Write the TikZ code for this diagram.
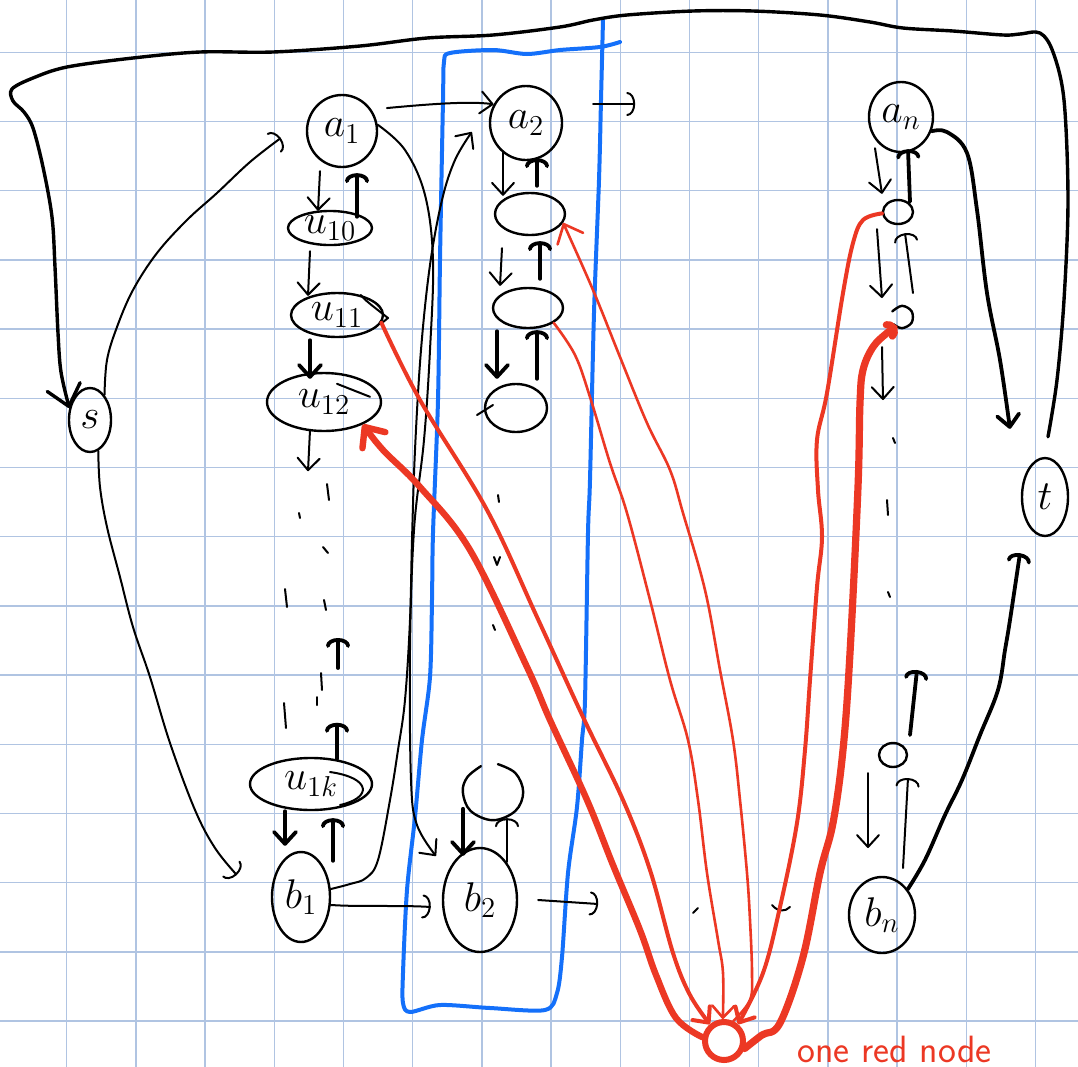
\documentclass[tikz,border=0pt]{standalone}
\usetikzlibrary{arrows.meta,shapes.geometric}
\definecolor{gridc}{RGB}{176,196,226}
\definecolor{redink}{RGB}{236,56,36}
\definecolor{blueink}{RGB}{20,112,250}
\tikzset{
 gridl/.style={draw=gridc,line width=0.65pt},
 ink/.style={draw=black,line width=1pt,line cap=round,line join=round},
 inkb/.style={draw=black,line width=1.9pt,line cap=round,line join=round},
 inkl/.style={draw=black,line width=1.7pt,line cap=round,line join=round},
 redt/.style={draw=redink,line width=1.3pt,line cap=round,line join=round},
 redm/.style={draw=redink,line width=2pt,line cap=round,line join=round},
 redk/.style={draw=redink,line width=3.2pt,line cap=round,line join=round},
 bluel/.style={draw=blueink,line width=2pt,line cap=round,line join=round},
 vhd/.style={-{Straight Barb[length=6pt,width=11pt,round]}},
 vhdl/.style={-{Straight Barb[length=10pt,width=17pt,round]}},
 arcd/.style={-{Arc Barb[length=4pt,width=12pt,round]}},
 nd/.style={draw=black,ellipse,line width=1.2pt,inner sep=0pt,font=\fontsize{20.74}{24}\selectfont},
 sz/.style 2 args={minimum width=#1*0.5pt,minimum height=#2*0.5pt}
}
\begin{document}
\begin{tikzpicture}[x=0.5pt,y=-0.5pt]
\useasboundingbox (0,0) rectangle (1078,1067);
\fill[white] (0,0) rectangle (1078,1067);
% grid paper
\foreach \k in {0,...,14}{
  \draw[gridl] ({66.7+69.2*\k},0) -- ({66.7+69.2*\k},1067);
  \draw[gridl] (0,{52.3+69.2*\k}) -- (1078,{52.3+69.2*\k});
}
% blue box
\draw[bluel] plot[smooth,tension=0.5] coordinates {(603,20) (601,100) (599,180) (594,313) (590,480) (588,533) (585,700) (582,740) (577,807) (568,873) (562,957) (557,993) (545,1010) (490,1008) (440,1005) (410,1012) (403,1003) (403,973) (407,890) (415,817) (422,740) (430,677) (432,600) (433,533) (438,400) (440,260) (443,100) (444,62) (450,53) (493,50) (527,54) (560,50) (600,47) (620,42)};

% nodes
\node[nd,sz={42}{64}] (s) at (90,420) {$s$};
\node[nd,sz={70}{72}] (a1) at (342,131) {$a_1$};
\node[nd,sz={72}{74}] (a2) at (526,123) {$a_2$};
\node[nd,sz={64}{70}] (an) at (901,117) {$a_n$};
\node[nd,sz={84}{34}] (u10) at (330,228) {$u_{10}$};
\node[nd,sz={92}{44}] (u11) at (337,315) {$u_{11}$};
\node[nd,sz={114}{58}] (u12) at (324,402) {$u_{12}$};
\node[nd,sz={122}{52}] (u1k) at (311,784) {$u_{1k}$};
\node[nd,sz={58}{90}] (b1) at (301,897) {$b_1$};
\node[nd,sz={74}{104}] (b2) at (480,900) {$b_2$};
\node[nd,sz={66}{76}] (bn) at (882,915) {$b_n$};
\node[nd,sz={46}{78}] (t) at (1045,497) {$t$};
\node[nd,sz={70}{42}] (e1) at (530,214) {};
\node[nd,sz={70}{40}] (e2) at (528,308) {};
\node[nd,sz={62}{48}] (e3) at (516,408) {};
\node[nd,draw=none,sz={58}{54}] (c2) at (493,792) {};
\node[nd,sz={30}{24}] (n1) at (898,212) {};
\node[nd,draw=none,sz={20}{20}] (n2) at (902,317) {};
\node[nd,sz={28}{24}] (n3) at (893,755) {};
\node[draw=redink,circle,line width=3pt,minimum size=19pt,inner sep=0pt] (R) at (724,1041) {};
\node[text=redink,anchor=base west,inner sep=0pt,font=\sffamily\fontsize{19}{22}\selectfont] (lbl) at (797,1062) {one red node};

% open node outlines and extra pen strokes on nodes
\draw[ink,line width=1.2pt] plot[smooth,tension=0.6] coordinates {(c2.115) (c2.150) (c2.180) (c2.220) (c2.270) (c2.320) (c2.0) (c2.40) (c2.80)};
\draw[ink,line width=1.2pt] plot[smooth,tension=0.6] coordinates {(n2.150) (n2.90) (n2.30) (n2.-30) (n2.-90) (n2.-140)};
\draw[ink] (u11.40) .. controls (365,300) .. (388,318) -- (u11.-12);
\draw[ink] ([shift={(13,12)}]u12.north) -- ([shift={(46,25)}]u12.north);
\draw[ink] (330,772) .. controls (372,778) and (372,798) .. (340,805);
\draw[ink] (477,415) -- (493,405);

% big loop t -> s
\draw[inkl,vhdl] plot[smooth,tension=0.55] coordinates {([shift={(3,-20)}]t.north) (1057,380) (1064,300) (1068,200) (1064,100) (1053,52) (1040,33) (1020,34) (1003,35) (953,31) (903,28) (870,22) (820,15) (753,11) (693,11) (627,15) (593,20) (560,27) (493,35) (427,38) (360,46) (273,52) (200,52) (133,58) (67,67) (33,78) (12,89) (13,101) (24,112) (33,128) (43,167) (52,217) (55,267) (58,333) (61,372) (s.150)};

% s -> a1, s -> b1
\draw[ink,arcd] plot[smooth,tension=0.6] coordinates {(s.60) (107,360) (117,327) (133,290) (157,253) (187,220) (217,193) (250,162) ([shift={(-25,7)}]a1.west)};
\draw[ink,arcd] plot[smooth,tension=0.6] coordinates {(s.-75) (100,487) (107,527) (120,577) (133,627) (150,677) (170,743) (195,810) (215,848) ([shift={(-34,-22)}]b1.west)};

% a1 -> b2 and b1 -> a2
\draw[ink,vhd] plot[smooth,tension=0.6] coordinates {(a1.10) (405,150) (425,195) (433,260) (430,350) (424,440) (414,530) (410,650) (411,780) (417,825) ([shift={(-13,-13)}]b2.135)};
\draw[ink,vhd] plot[smooth,tension=0.6] coordinates {(b1.15) (350,884) (366,878) (378,860) (390,800) (398,750) (405,700) (410,620) (412,540) (415,450) (421,350) (430,265) (442,200) (455,160) ([shift={(-17,9)}]a2.west)};

% horizontal arrows
\draw[ink,vhd] ([shift={(15,-2)}]a1.35) .. controls (430,104) and (470,101) .. (a2.150);
\draw[ink,arcd] ([shift={(30,-19)}]a2.east) -- ([shift={(72,-19)}]a2.east);
\draw[ink,arcd] (b1.-15) .. controls (360,907) and (400,905) .. ([shift={(-11,7)}]b2.west);
\draw[ink,arcd] ([shift={(20,0)}]b2.east) -- ([shift={(80,4)}]b2.east);
\draw[ink] (693,913) -- (698,908);
\draw[ink] (772,905) .. controls (778,912) and (785,912) .. (790,907);
\draw[ink] (815,901) -- (816,906);

% column 1
\draw[ink,vhd] ([shift={(-22,3)}]a1.south) -- ([shift={(-12,1)}]u10.north);
\draw[inkb,arcd] ([shift={(27,7)}]u10.north) -- ([shift={(15,5)}]a1.south);
\draw[ink,vhd] ([shift={(-20,5)}]u10.south) -- ([shift={(-29,4)}]u11.north);
\draw[inkb,vhd] ([shift={(-27,2)}]u11.south) -- ([shift={(-14,7)}]u12.north);
\draw[ink,vhd] ([shift={(-14,-2)}]u12.south) -- ([shift={(-16,39)}]u12.south);
\draw[ink] (327,484) -- (329,500);
\draw[ink] (299,513) -- (300,518);
\draw[ink] (323,547) -- (328,553);
\draw[ink] (285,589) -- (287,607);
\draw[ink] (324,600) -- (326,610);
\draw[ink] (321,673) -- (322,690);
\draw[ink] (317,697) -- (317,705);
\draw[ink] (284,703) -- (286,728);
\coordinate (d1a) at (338,668);
\coordinate (d1b) at (338,638);
\draw[inkb,arcd] (d1a) -- (d1b);
\draw[inkb,arcd] ([shift={(26,2)}]u1k.north) -- ([shift={(26,-34)}]u1k.north);
\draw[inkb,vhd] ([shift={(-26,0)}]u1k.south) -- ([shift={(-16,-5)}]b1.north);
\draw[inkb,arcd] ([shift={(32,10)}]b1.north) -- ([shift={(22,7)}]u1k.south);

% column 2
\draw[ink,vhd] ([shift={(-23,-10)}]a2.south) -- ([shift={(-27,4)}]e1.north);
\draw[inkb,arcd] ([shift={(7,-6)}]e1.north) -- ([shift={(11,-3)}]a2.south);
\draw[ink,vhd] ([shift={(-28,12)}]e1.south) -- ([shift={(-28,-1)}]e2.north);
\draw[inkb,arcd] ([shift={(12,-8)}]e2.north) -- ([shift={(10,5)}]e1.south);
\draw[inkb,vhd] ([shift={(-31,2)}]e2.south) -- ([shift={(-19,-4)}]e3.north);
\draw[inkb,arcd] ([shift={(21,-4)}]e3.north) -- ([shift={(9,1)}]e2.south);
\draw[ink] (498,495) -- (499,502);
\draw[ink] (494,557) -- (497,565) -- (500,557);
\draw[ink] (493,625) -- (495,630);
\draw[inkb,vhd] ([shift={(-17,-38)}]b2.north) -- ([shift={(-17,9)}]b2.north);
\draw[ink,arcd] ([shift={(27,15)}]b2.north) -- ([shift={(14,-2)}]c2.south);

% column n
\draw[ink,vhd] ([shift={(-26,-5)}]an.south) -- ([shift={(-16,-5)}]n1.north);
\draw[inkb,arcd] ([shift={(12,3)}]n1.north) -- ([shift={(7,-4)}]an.south);
\draw[ink,vhd] ([shift={(-21,4)}]n1.south) -- ([shift={(-20,-19)}]n2.center);
\draw[ink,arcd] ([shift={(11,-24)}]n2.center) -- ([shift={(7,8)}]n1.south);
\draw[ink,vhd] ([shift={(-20,30)}]n2.center) -- ([shift={(-19,83)}]n2.center);
\draw[ink] (893,438) -- (895,443);
\draw[ink] (887,500) -- (888,515);
\draw[ink] (888,592) -- (890,597);
\draw[inkb,arcd] ([shift={(17,-20)}]n3.center) -- ([shift={(24,-85)}]n3.center);
\draw[ink,vhd] ([shift={(-25,18)}]n3.center) -- ([shift={(-14,-67)}]bn.center);
\draw[ink,arcd] ([shift={(21,-47)}]bn.center) -- ([shift={(15,23)}]n3.center);

% a_n -> t, b_n -> t
\draw[inkb,vhd] plot[smooth,tension=0.6] coordinates {(an.-25) (947,132) (967,153) (977,210) (987,293) (1000,360) ([shift={(-35,-28)}]t.north)};
\draw[inkb,arcd] plot[smooth,tension=0.6] coordinates {(bn.45) (925,860) (945,815) (962,780) (980,735) (998,690) (1005,650) (1010,620) ([shift={(-25,16)}]t.south)};

% red connectors
\draw[redm,vhd] plot[smooth,tension=0.6] coordinates {(u11.-10) (420,400) (487,510) (537,617) (583,717) (623,800) (650,870) (673,953) (690,995) (R.130)};
\draw[redk,-{Straight Barb[length=8pt,width=14pt,round]}] plot[smooth,tension=0.6] coordinates {(R.170) (676,1018) (656,975) (640,930) (613,865) (587,800) (550,720) (527,667) (470,550) (420,487) (383,450) (u12.-30)};
\draw[redt,-{Straight Barb[length=8pt,width=14pt,round]}] plot[smooth,tension=0.6] coordinates {(R.65) (750,1000) (752,973) (750,920) (747,873) (740,800) (733,740) (720,670) (705,590) (683,513) (670,470) (647,423) (620,357) (593,290) (e1.-15)};
\draw[redt,vhd] plot[smooth,tension=0.6] coordinates {(e2.-30) (575,355) (590,397) (610,463) (627,513) (650,600) (670,680) (688,740) (698,800) (707,873) (718,940) (723,973) (R.93)};
\draw[redm,vhd] plot[smooth,tension=0.6] coordinates {(n1.185) (863,220) (853,243) (843,293) (827,393) (817,440) (818,490) (822,537) (817,587) (810,680) (805,750) (797,823) (780,907) (763,973) (R.50)};
\draw[redk,line width=3.6pt,-{Arc Barb[length=4pt,width=10pt,round]}] plot[smooth,tension=0.6] coordinates {(R.-20) (762,1035) (780,1023) (803,957) (820,873) (833,823) (843,750) (850,653) (858,487) (860,403) (863,370) (873,347) (887,333) (n2.-120)};
\end{tikzpicture}
\end{document}
